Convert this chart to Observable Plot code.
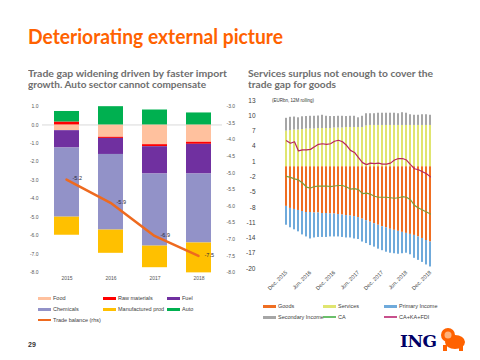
<!DOCTYPE html>
<html><head><meta charset="utf-8">
<script src="https://cdn.jsdelivr.net/npm/d3@7"></script>
<script src="https://cdn.jsdelivr.net/npm/@observablehq/plot@0.6"></script>
<style>
body{margin:0;width:480px;height:360px;background:#fff;position:relative;overflow:hidden;font-family:"Liberation Sans",Arial,sans-serif;}
.abs{position:absolute;}
.fit{position:absolute;white-space:nowrap;transform-origin:0 0;}
#title{left:28px;top:24px;font:700 20px Lato,sans-serif;color:#FF6200;}
.sub{font:700 10px Lato,sans-serif;color:#6e6e6e;}
.leg{position:absolute;font-size:5.5px;color:#404040;white-space:nowrap;line-height:6px;}
.sw{position:absolute;width:13px;}
.plot{position:absolute;}
</style></head>
<body>
<div id="title" class="fit">Deteriorating external picture</div>
<div class="fit sub" id="s1" style="left:28px;top:67px">Trade gap widening driven by faster import</div>
<div class="fit sub" id="s2" style="left:28px;top:77.5px">growth. Auto sector cannot compensate</div>
<div class="fit sub" id="s3" style="left:248px;top:67px">Services surplus not enough to cover the</div>
<div class="fit sub" id="s4" style="left:248px;top:77.5px">trade gap for goods</div>
<div class="abs" style="left:272px;top:97.5px;font-size:4.5px;color:#333;white-space:nowrap">(EURbn, 12M rolling)</div>
<div id="left1" class="plot" style="left:0;top:95px"></div>
<div id="left2" class="plot" style="left:0;top:95px"></div>
<div id="right1" class="plot" style="left:240px;top:92px"></div>
<div id="right2" class="plot" style="left:240px;top:92px"></div>
<div class="abs" style="left:28px;top:341px;font:700 7px 'Liberation Sans',sans-serif;color:#333">29</div>
<div class="abs" style="left:400px;top:333px;font:700 17px 'DejaVu Serif',serif;color:#000066;line-height:17px;letter-spacing:-0.5px">ING</div>
<svg class="abs" style="left:439px;top:327px" width="28" height="24" viewBox="0 0 28 24">
  <ellipse cx="9" cy="8" rx="7" ry="7" fill="#FF6200"/>
  <ellipse cx="16" cy="15" rx="10" ry="7" fill="#FF6200"/>
  <ellipse cx="9" cy="8" rx="3.5" ry="3.5" fill="#FFB27A"/>
  <rect x="4" y="18" width="4" height="6" fill="#FF6200"/>
  <rect x="20" y="18" width="4" height="6" fill="#FF6200"/>
</svg>
<script>
// ---------- Left chart data (EUR bn) ----------
const years = ["2015", "2016", "2017", "2018"];
const food = [-0.31, -0.67, -1.07, -0.94];
const rawMaterials = [0.16, -0.06, -0.11, -0.11];
const fuel = [-0.94, -0.87, -1.48, -1.61];
const chemicals = [-3.75, -4.10, -3.91, -3.74];
const manufactured = [-0.98, -1.26, -1.17, -1.62];
const autoSector = [0.57, 0.99, 0.81, 0.65];
const tradeBalance = [-5.2, -5.9, -6.9, -7.5];
const leftTicks = [1, 0, -1, -2, -3, -4, -5, -6, -7, -8];
const rhsTicks = [-3, -3.5, -4, -4.5, -5, -5.5, -6, -6.5, -7, -7.5, -8];
const leftNames = ["Food", "Raw materials", "Fuel", "Chemicals", "Manufactured prod", "Auto"];
const leftColors = ["#FFC19E", "#FF0000", "#7030A0", "#9292C8", "#FFC000", "#00B050"];
const tbColor = "#EE6A1F";

// ---------- Right chart data (EUR bn, 12M rolling) ----------
const months = ["Dec. 2015","Jan. 2016","Feb. 2016","Mar. 2016","Apr. 2016","May. 2016","Jun. 2016","Jul. 2016","Aug. 2016","Sep. 2016","Oct. 2016","Nov. 2016","Dec. 2016",
"Jan. 2017","Feb. 2017","Mar. 2017","Apr. 2017","May. 2017","Jun. 2017","Jul. 2017","Aug. 2017","Sep. 2017","Oct. 2017","Nov. 2017","Dec. 2017",
"Jan. 2018","Feb. 2018","Mar. 2018","Apr. 2018","May. 2018","Jun. 2018","Jul. 2018","Aug. 2018","Sep. 2018","Oct. 2018","Nov. 2018","Dec. 2018"];
const monthTicks = ["Dec. 2015","Jun. 2016","Dec. 2016","Jun. 2017","Dec. 2017","Jun. 2018","Dec. 2018"];
const goods = [-7.8,-8.2,-8.4,-8.6,-8.8,-9.0,-9.0,-9.1,-9.1,-9.2,-9.2,-9.3,-9.3,-9.4,-9.5,-9.6,-9.7,-9.8,-10.0,-10.3,-10.6,-10.9,-11.2,-11.5,-11.8,-12.0,-12.3,-12.5,-12.7,-12.9,-13.1,-13.3,-13.5,-13.8,-14.1,-14.5,-14.8];
const services = [7.0,7.1,7.2,7.2,7.3,7.4,7.4,7.4,7.5,7.5,7.5,7.5,7.6,7.6,7.6,7.7,7.7,7.7,7.7,7.7,8.0,8.1,8.1,8.1,8.1,8.1,8.1,8.1,8.1,8.1,8.1,8.1,8.1,8.1,8.1,8.1,8.1];
const primaryIncome = [-3.7,-3.8,-4.0,-4.2,-4.6,-4.8,-5.2,-4.9,-4.8,-4.7,-4.7,-4.5,-4.5,-4.4,-4.4,-4.4,-4.3,-4.4,-4.3,-4.5,-4.5,-4.6,-4.6,-4.7,-4.7,-4.8,-4.7,-4.6,-4.5,-4.2,-3.9,-4.0,-4.5,-4.6,-4.7,-4.8,-4.9];
const secondaryIncome = [2.5,2.6,2.55,2.4,2.5,2.45,2.5,2.5,2.45,2.6,2.4,2.35,2.25,2.3,2.3,2.15,2.2,2.2,1.9,2.2,2.4,2.3,2.3,2.4,2.4,2.4,2.4,2.4,2.3,2.5,2.4,2.1,2.0,2.0,2.1,2.1,2.0];
const ca = [-1.9,-2.1,-2.4,-2.6,-3.2,-4.0,-4.2,-3.9,-3.8,-3.8,-3.8,-3.9,-3.8,-3.7,-3.7,-4.0,-4.4,-4.3,-4.5,-5.3,-5.2,-5.4,-5.8,-6.0,-6.0,-6.0,-6.1,-6.2,-6.1,-5.9,-6.0,-6.5,-7.6,-8.1,-8.5,-8.9,-9.3];
const caKaFdi = [5.1,4.6,4.9,3.1,3.3,3.3,3.4,3.9,4.4,4.5,4.4,4.5,5.0,5.2,4.9,4.2,3.2,2.8,1.8,0.8,0.4,0.7,0.6,0.7,0.5,0.5,0.7,1.3,1.6,1.6,1.3,0.4,-0.4,-0.6,-1.0,-1.4,-2.0];
const rightTicks = [13, 10, 7, 4, 1, -2, -5, -8, -11, -14, -17, -20];
const rightNames = ["Goods", "Services", "Primary Income", "Secondary Income"];
const rightColors = ["#EF6E22", "#E0E570", "#6FAADB", "#A6A6A6"];
const caColor = "#7F9A3C", fdiColor = "#B8285A";

const fmt1 = d => d.toFixed(1);
const font = "'Liberation Sans', Arial, sans-serif";

// ---------- Left chart ----------
const leftVals = [food, rawMaterials, fuel, chemicals, manufactured, autoSector];
const leftRows = leftNames.flatMap((n, s) => leftVals[s].map((v, i) => ({year: years[i], series: n, value: v})));
const tbRows = years.map((y, i) => ({year: y, value: tradeBalance[i], label: fmt1(tradeBalance[i])}));
const L = {width: 240, height: 190, marginLeft: 42, marginRight: 18, marginTop: 11, marginBottom: 13};
const pi = 0.44, po = 0.23;

document.getElementById("left1").append(Plot.plot({
  ...L,
  style: {background: "transparent", fontFamily: font, fontSize: "5px", color: "#555"},
  x: {type: "band", domain: years, paddingInner: pi, paddingOuter: po, label: null},
  y: {domain: [-8, 1], label: null},
  color: {domain: leftNames, range: leftColors},
  marks: [
    Plot.ruleY([0], {stroke: "#d9d9d9"}),
    Plot.barY(leftRows, {x: "year", y: "value", fill: "series"}),
    Plot.axisY({ticks: leftTicks, tickFormat: fmt1, tickSize: 0, tickPadding: 4, label: null}),
    Plot.axisX({tickSize: 0, tickPadding: 4, label: null})
  ]
}));
document.getElementById("left2").append(Plot.plot({
  ...L,
  style: {background: "transparent", fontFamily: font, fontSize: "5px", color: "#555"},
  x: {type: "point", domain: years, padding: po + (1 - pi) / 2, axis: null},
  y: {domain: [-8, -3], label: null},
  marks: [
    Plot.line(tbRows, {x: "year", y: "value", stroke: tbColor, strokeWidth: 2.5}),
    Plot.text(tbRows, {x: "year", y: "value", text: "label", dx: 6, dy: -1, textAnchor: "start", fill: "#2a2a3a", fontSize: 5.5}),
    Plot.axisY({anchor: "right", ticks: rhsTicks, tickFormat: fmt1, tickSize: 0, tickPadding: 4, label: null})
  ]
}));

// ---------- Right chart ----------
const rightVals = [goods, services, primaryIncome, secondaryIncome];
const rightRows = rightNames.flatMap((n, s) => rightVals[s].map((v, i) => ({month: months[i], series: n, value: v})));
const lineRows = [
  ...months.map((m, i) => ({month: m, series: "CA", value: ca[i]})),
  ...months.map((m, i) => ({month: m, series: "CA+KA+FDI", value: caKaFdi[i]}))
];
const R = {width: 240, height: 210, marginLeft: 30, marginRight: 34, marginTop: 8, marginBottom: 34};
const rp = 0.4;
document.getElementById("right1").append(Plot.plot({
  ...R,
  style: {background: "transparent", fontFamily: font, fontSize: "6.5px", color: "#404040"},
  x: {type: "band", domain: months, paddingInner: rp, paddingOuter: rp, label: null},
  y: {domain: [-20, 13], label: null},
  color: {domain: rightNames, range: rightColors},
  marks: [
    Plot.barY(rightRows, {x: "month", y: "value", fill: "series"}),
    Plot.axisY({ticks: rightTicks, tickFormat: d => String(d), tickSize: 0, tickPadding: 15, label: null}),
    Plot.axisX({ticks: monthTicks, tickRotate: -45, tickSize: 0, tickPadding: 3, fontSize: 5.5, label: null})
  ]
}));
document.getElementById("right2").append(Plot.plot({
  ...R,
  style: {background: "transparent", fontFamily: font},
  x: {type: "point", domain: months, padding: rp + (1 - rp) / 2, axis: null},
  y: {domain: [-20, 13], axis: null},
  color: {domain: ["CA", "CA+KA+FDI"], range: [caColor, fdiColor]},
  marks: [
    Plot.line(lineRows, {x: "month", y: "value", z: "series", stroke: "series", strokeWidth: 1.2})
  ]
}));

// ---------- Legends ----------
function leg(x, y, color, text, thick) {
  const s = document.createElement("div");
  s.className = "sw";
  s.style.cssText = `left:${x}px;top:${y - thick / 2}px;height:${thick}px;background:${color}`;
  document.body.append(s);
  const t = document.createElement("div");
  t.className = "leg";
  t.style.cssText = `left:${x + 15}px;top:${y - 3}px`;
  t.textContent = text;
  document.body.append(t);
}
leg(38, 298, leftColors[0], "Food", 3);
leg(103, 298, leftColors[1], "Raw materials", 3);
leg(167, 298, leftColors[2], "Fuel", 3);
leg(38, 309, leftColors[3], "Chemicals", 3);
leg(103, 309, leftColors[4], "Manufactured prod", 3);
leg(167, 309, leftColors[5], "Auto", 3);
leg(38, 320, tbColor, "Trade balance (rhs)", 2);
leg(263, 306, rightColors[0], "Goods", 3);
leg(323, 306, rightColors[1], "Services", 3);
leg(384, 306, rightColors[2], "Primary Income", 3);
leg(263, 317, rightColors[3], "Secondary Income", 3);
leg(323, 317, "#6BBF6B", "CA", 1.2);
leg(384, 317, "#C8508C", "CA+KA+FDI", 1.2);

// ---------- fit headings ----------
function fit(id, w) {
  const el = document.getElementById(id);
  const r = el.getBoundingClientRect().width;
  el.style.transform = `scaleX(${w / r})`;
}
fit("title", 255); fit("s1", 199); fit("s2", 178); fit("s3", 185); fit("s4", 88);
</script>
</body></html>
